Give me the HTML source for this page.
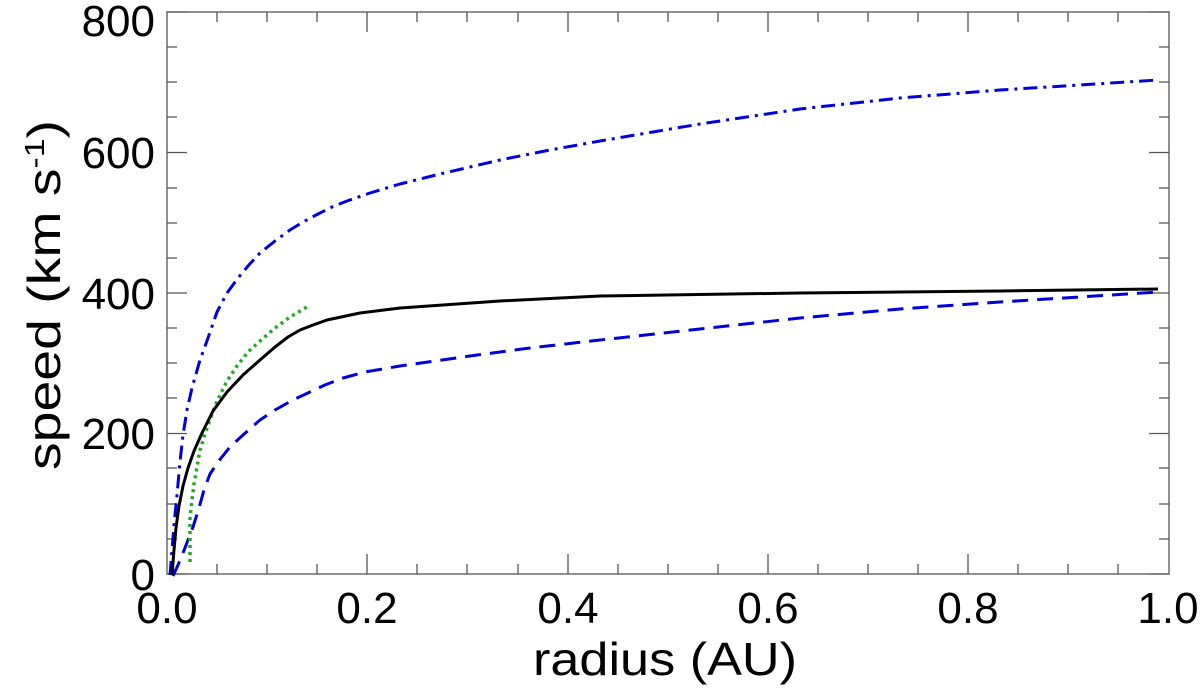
<!DOCTYPE html>
<html><head><style>body{margin:0;background:#fff}</style></head><body>
<svg width="1200" height="690" xmlns="http://www.w3.org/2000/svg" font-family="Liberation Sans, sans-serif">
<rect x="0" y="0" width="1200" height="690" fill="#fff"/>
<g stroke="#555" stroke-width="1.3" fill="none">
<rect x="167" y="12" width="1002" height="562"/>
<path d="M167 574h20M167 433.5h20M167 293h20M167 152.5h20M167 12h20
M167 539h10M167 504h10M167 468h10M167 398h10M167 363h10M167 328h10M167 258h10M167 223h10M167 188h10M167 117h10M167 82h10M167 47h10
M1169 574h-20M1169 433.5h-20M1169 293h-20M1169 152.5h-20M1169 12h-20
M1169 539h-10M1169 504h-10M1169 468h-10M1169 398h-10M1169 363h-10M1169 328h-10M1169 258h-10M1169 223h-10M1169 188h-10M1169 117h-10M1169 82h-10M1169 47h-10
M367 574v-20M568 574v-20M768 574v-20M968 574v-20M367 12v20M568 12v20M768 12v20M968 12v20
M217 574v-10M267 574v-10M317 574v-10M417 574v-10M467 574v-10M518 574v-10M618 574v-10M668 574v-10M718 574v-10M818 574v-10M868 574v-10M918 574v-10M1018 574v-10M1068 574v-10M1118 574v-10
M217 12v10M267 12v10M317 12v10M417 12v10M467 12v10M518 12v10M618 12v10M668 12v10M718 12v10M818 12v10M868 12v10M918 12v10M1018 12v10M1068 12v10M1118 12v10"/>
</g>
<g fill="none" stroke-width="3" stroke-linejoin="round">
<polyline stroke="#0000dd" stroke-dasharray="14,6,3,6" points="170,575 172,550 174,525 177,495 180,462 183,435 187,410 192,388 200,360 208,338 217,312 227,293 238,278 248,266 260,253 275,241 290,230 303,222 318,214 332,207 347,201 370,193 400,184 440,174 500,160 550,150 600,141 700,124 800,109 900,98 1000,90 1080,85 1158,80"/>
<polyline stroke="#0000dd" stroke-dasharray="16,9" points="173,576 178,565 183,553 188,540 193,527 199,508 204,490 210,474 218,462 230,447 243,435 260,420 275,410 293,400 310,392 325,385 343,378 365,372 400,366 470,356 530,348 600,340 700,329 800,318 900,309 1000,302 1080,297 1158,292"/>
<polyline stroke="#22aa22" stroke-dasharray="3,4" stroke-width="3.5" points="190,562 190,540 190,517 192,500 194,484 197,467 200,450 205,434 210,420 215,406 221,393 227,381 237,366 248,352 260,341 275,328 290,317 307,307"/>
<polyline stroke="#000" points="172,575 174,550 176,528 179,506 183,486 188,468 194,451 202,433 213,411 227,392 243,375 260,360 275,347 288,337 300,330 313,325 327,320 360,313 400,308 500,301 600,296 800,293 1000,291 1158,289"/>
</g>
<g font-size="44" fill="#000">
<g text-anchor="end">
<text x="155" y="590">0</text>
<text x="155" y="449">200</text>
<text x="155" y="309">400</text>
<text x="155" y="168">600</text>
<text x="155" y="36">800</text>
</g>
<g text-anchor="middle">
<text x="167" y="623">0.0</text>
<text x="367" y="623">0.2</text>
<text x="568" y="623">0.4</text>
<text x="768" y="623">0.6</text>
<text x="968" y="623">0.8</text>
<text x="1168" y="623">1.0</text>
</g>
<text x="533" y="675" font-size="46" textLength="264" lengthAdjust="spacingAndGlyphs">radius (AU)</text>
<text transform="translate(60,470) rotate(-90)" font-size="46" textLength="350" lengthAdjust="spacingAndGlyphs">speed (km s<tspan font-size="28" dy="-16">-1</tspan><tspan dy="16">)</tspan></text>
</g>
</svg>
</body></html>
